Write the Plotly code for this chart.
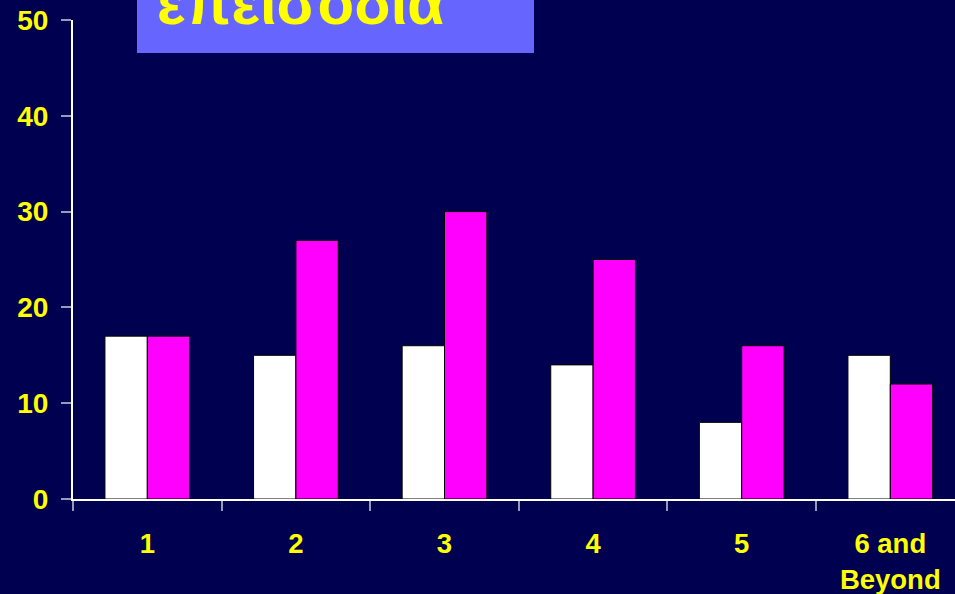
import plotly.graph_objects as go

# Episode counts per category
categories = ["1", "2", "3", "4", "5", "6 and<br>Beyond"]
white_series = [17, 15, 16, 14, 8, 15]
magenta_series = [17, 27, 30, 25, 16, 12]
y_ticks = [0, 10, 20, 30, 40, 50]
title_text = "επεισόδια"

BG = "#000050"
YELLOW = "#FFFF00"
FONT = "Arial, Liberation Sans, sans-serif"

W, H = 955, 594
L, R, T, B = 73, 0, 20, 95

fig = go.Figure()
fig.add_trace(go.Bar(
    x=categories, y=white_series,
    marker=dict(color="#FFFFFF", line=dict(color="#000000", width=1)),
    showlegend=False, hoverinfo="skip",
))
fig.add_trace(go.Bar(
    x=categories, y=magenta_series,
    marker=dict(color="#FF00FF", line=dict(color="#000000", width=1)),
    showlegend=False, hoverinfo="skip",
))

pw = W - L - R
cat_px = 148.6
x_hi = -0.5 + pw / cat_px

fig.update_layout(
    width=W, height=H,
    margin=dict(l=L, r=R, t=T, b=B, pad=0),
    paper_bgcolor=BG, plot_bgcolor=BG,
    barmode="group", bargap=0.43, bargroupgap=0,
    font=dict(family=FONT, color=YELLOW, size=27),
    xaxis=dict(
        type="category", range=[-0.5, x_hi],
        showline=True, linecolor="#FFFFFF", linewidth=2,
        ticks="outside", tickson="boundaries", ticklen=10,
        tickcolor="#9999BB", tickwidth=2,
        showgrid=False, zeroline=False,
        tickfont=dict(family=FONT, color=YELLOW, size=27.5, weight="bold"),
        ticklabelstandoff=19,
    ),
    yaxis=dict(
        range=[0, 50], tickvals=y_ticks,
        showline=True, linecolor="#FFFFFF", linewidth=2,
        ticks="outside", ticklen=10, tickcolor="#9999BB", tickwidth=2,
        showgrid=False, zeroline=False,
        tickfont=dict(family=FONT, color=YELLOW, size=28, weight="bold"),
        ticklabelstandoff=7,
    ),
)

# Heading box at the top of the slide
ph = H - T - B
def py(px_y):
    return (H - B - px_y) / ph
def px(px_x):
    return (px_x - L) / pw

fig.add_shape(
    type="rect", xref="paper", yref="paper",
    x0=px(137), x1=px(534), y0=py(53), y1=py(-10),
    fillcolor="#6666FF", line=dict(width=0), layer="above",
)
fig.add_annotation(
    text=title_text, xref="paper", yref="paper",
    x=px(155), y=py(27), xanchor="left", yanchor="bottom",
    showarrow=False, yshift=-12,
    font=dict(family=FONT, color=YELLOW, size=60, weight="bold"),
)

fig.write_html("out.html")
